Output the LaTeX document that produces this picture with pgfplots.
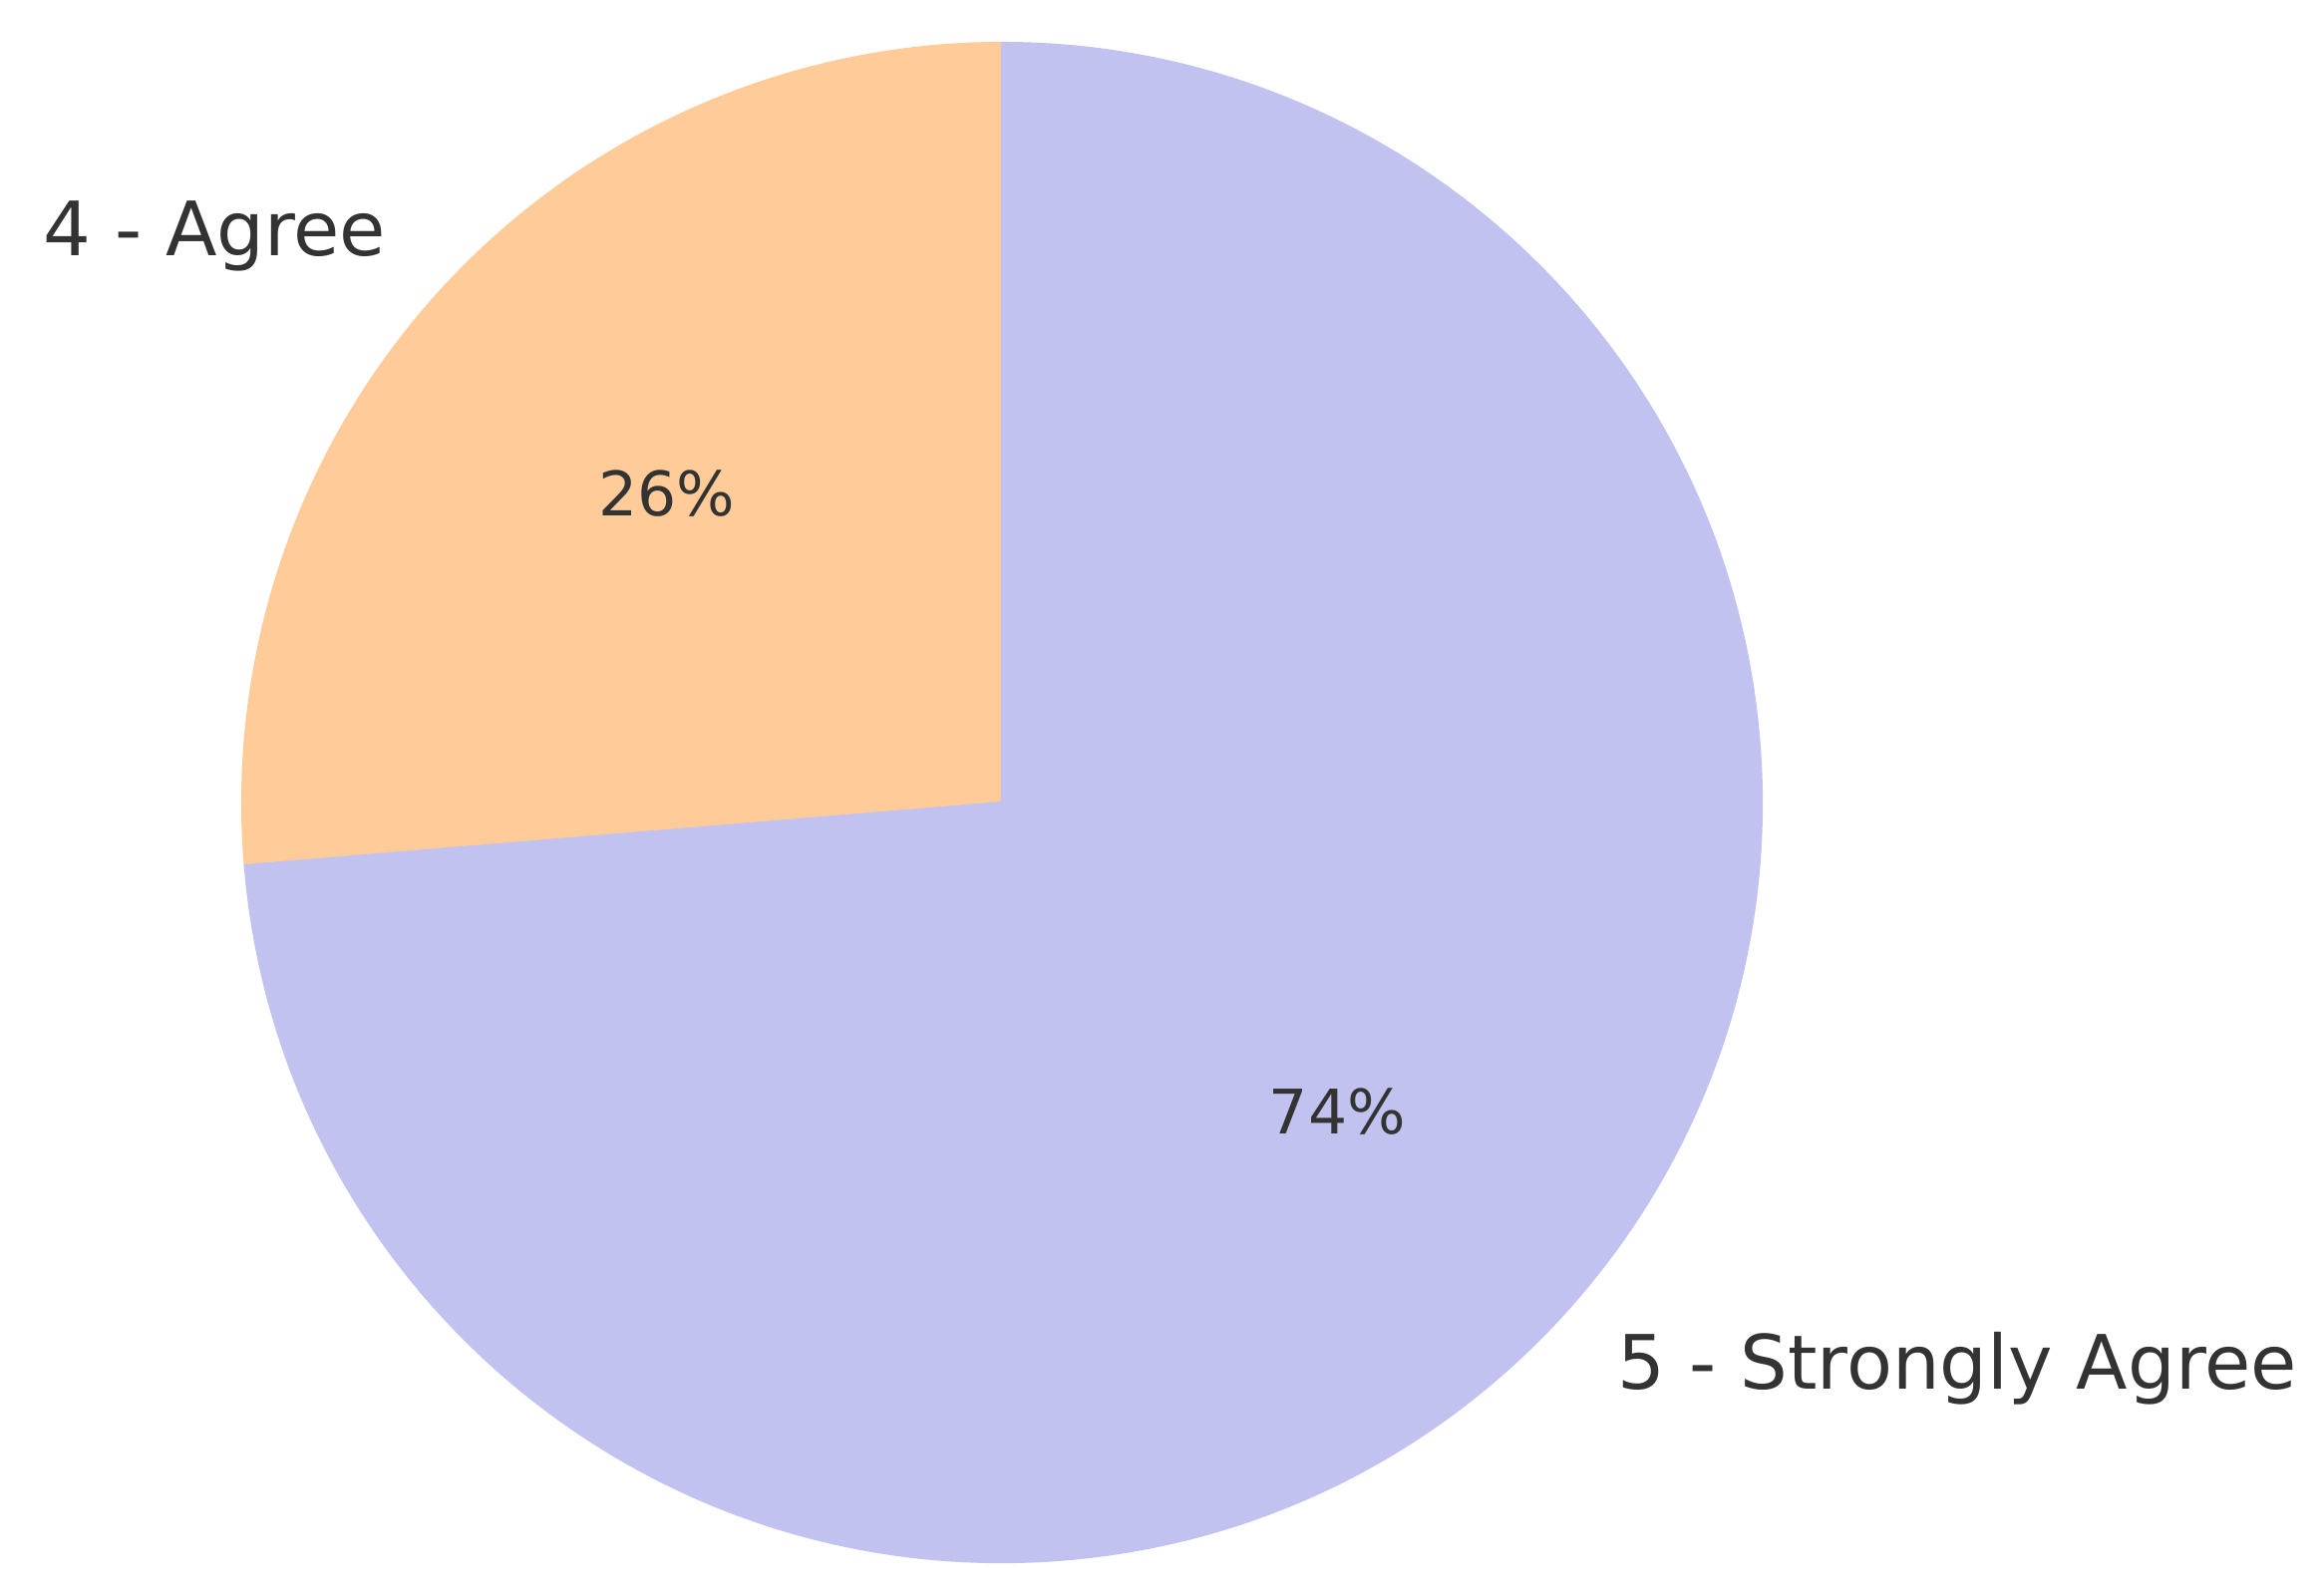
\documentclass[border=0pt]{standalone}
\usepackage{fontspec}
\setmainfont{DejaVu Sans}
\usepackage{pgfplots}
\usepackage{pgfplotstable}
\pgfplotsset{compat=1.18}

\definecolor{agree}{HTML}{FFCC99}
\definecolor{strong}{HTML}{C2C2F0}
\definecolor{txt}{HTML}{333333}

% slices: centre (in pixel units of the axis), count, cumulative count before it
\pgfplotstableread{
x y count cum col anc lab
1005 788 5 0 agree east {4 - Agree}
1005 788 14 5 strong west {5 - Strongly Agree}
}\piedata
\def\pietotal{19}

\def\pieR{51.26mm}

\begin{document}
\begin{tikzpicture}
\begin{axis}[
  width=156.8mm, height=107.16mm, scale only axis,
  xmin=0, xmax=2331, ymin=0, ymax=1593,
  hide axis, clip=false,
]
\path (rel axis cs:0,0) rectangle (rel axis cs:1,1);
\addplot[
  scatter, only marks, mark=*, mark size=0pt,
  mark options={draw=none, fill=none},
  visualization depends on={value \coordindex \as \sidx},
  scatter/@pre marker code/.code={%
    \pgfmathtruncatemacro\i{\sidx}%
    \pgfplotstablegetelem{\i}{count}\of\piedata \let\sval\pgfplotsretval
    \pgfplotstablegetelem{\i}{cum}\of\piedata \let\scum\pgfplotsretval
    \pgfplotstablegetelem{\i}{col}\of\piedata \let\scol\pgfplotsretval
    \pgfplotstablegetelem{\i}{anc}\of\piedata \let\sanc\pgfplotsretval
    \pgfplotstablegetelem{\i}{lab}\of\piedata \let\slabel\pgfplotsretval
    \pgfmathsetmacro\sa{90+360*\scum/\pietotal}%
    \pgfmathsetmacro\se{90+360*(\scum+\sval)/\pietotal}%
    \pgfmathsetmacro\sm{(\sa+\se)/2}%
    \pgfmathtruncatemacro\spct{round(100*\sval/\pietotal)}%
    \fill[\scol] (0,0) -- (\sa:\pieR) arc[start angle=\sa, end angle=\se, radius=\pieR] -- cycle;
    \node[txt, inner sep=0pt, font=\fontsize{11.8}{14}\selectfont] at (\sm:0.6*\pieR) {\spct\%};
    \node[txt, inner sep=0pt, anchor=\sanc, font=\fontsize{14.4}{17}\selectfont] at (\sm:1.1*\pieR) {\slabel};
  },
  scatter/@post marker code/.code={},
] table[x=x, y=y] {\piedata};
\end{axis}
\end{tikzpicture}
\end{document}
